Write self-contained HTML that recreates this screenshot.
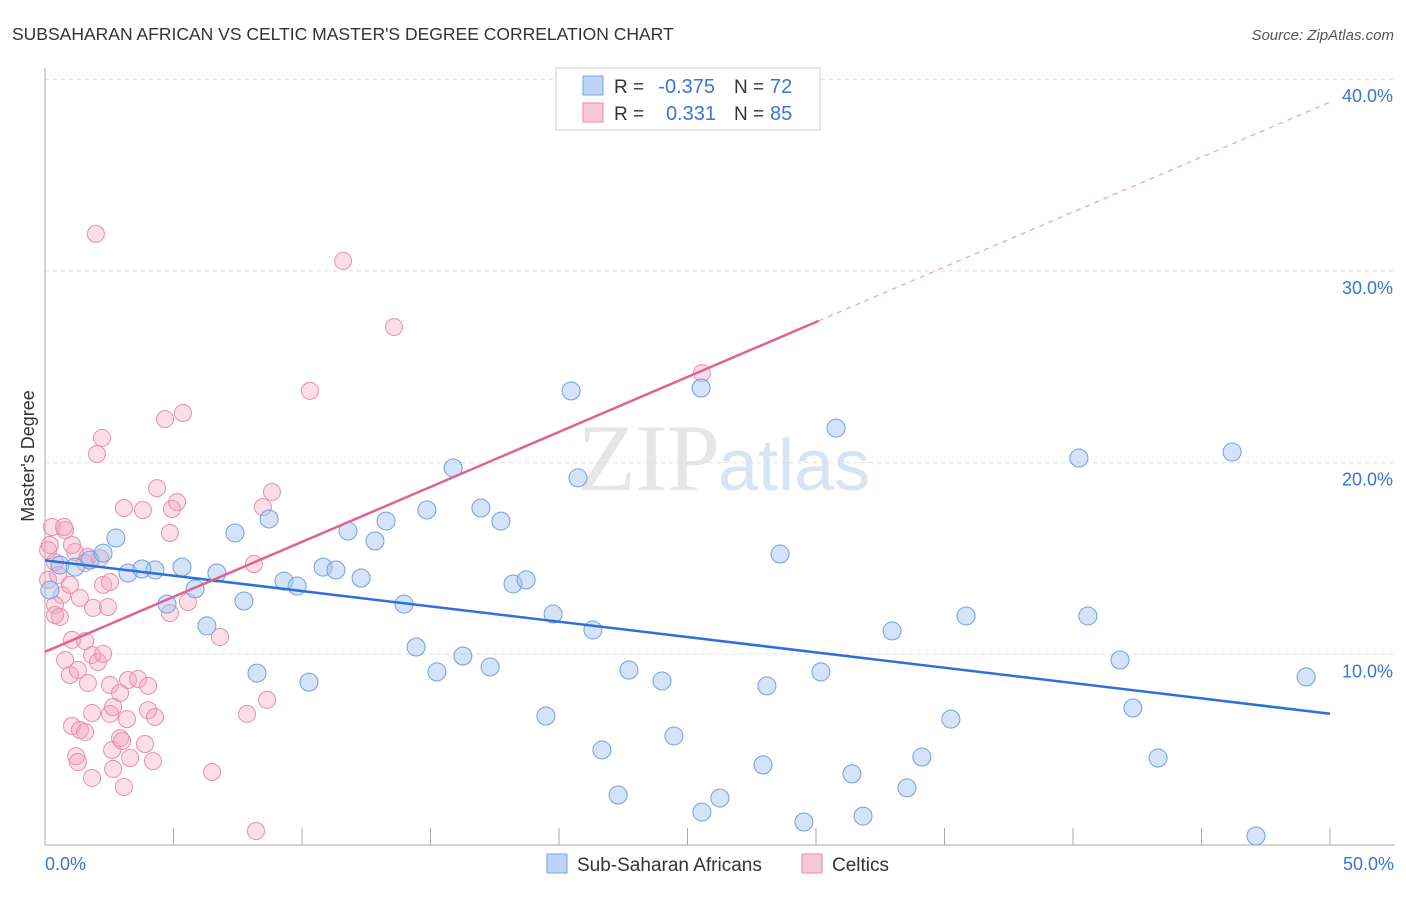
<!DOCTYPE html>
<html><head><meta charset="utf-8"><style>
body{margin:0;background:#fff;font-family:"Liberation Sans",sans-serif;}
</style></head><body>
<svg width="1406" height="892" xmlns="http://www.w3.org/2000/svg" font-family="Liberation Sans, sans-serif">
<text x="12" y="40" font-size="17.5" fill="#333">SUBSAHARAN AFRICAN VS CELTIC MASTER'S DEGREE CORRELATION CHART</text>
<text x="1394" y="40" font-size="15" fill="#555" font-style="italic" text-anchor="end">Source: ZipAtlas.com</text>
<text x="720" y="490" font-size="95" fill="#e6e6e6" text-anchor="end" font-family="Liberation Serif, serif">ZIP</text>
<text x="718" y="490" font-size="72" fill="#d6e4f5">atlas</text>
<g id="grid"></g><g id="axes"></g><g id="pts"></g><g id="lines"></g>
<text transform="translate(34,456) rotate(-90)" font-size="18" fill="#333" text-anchor="middle">Master's Degree</text>
<text x="45" y="870" font-size="18" fill="#3b73d6">0.0%</text>
<text x="1394" y="870" font-size="18" fill="#3b73d6" text-anchor="end">50.0%</text>
<g>
<rect x="556" y="68" width="264" height="62" fill="#fff" stroke="#ccc"/>
<rect x="583" y="76" width="20" height="19" fill="#bcd3f5" stroke="#7aa3e5"/>
<rect x="583" y="103" width="20" height="19" fill="#f8c8d6" stroke="#e98aa8"/>
<text x="614" y="93" font-size="19" fill="#333">R =</text>
<text x="715" y="93" font-size="20" fill="#3b73d6" text-anchor="end">-0.375</text>
<text x="734" y="93" font-size="19" fill="#333">N =</text>
<text x="770" y="93" font-size="20" fill="#3b73d6">72</text>
<text x="614" y="120" font-size="19" fill="#333">R =</text>
<text x="716" y="120" font-size="20" fill="#3b73d6" text-anchor="end">0.331</text>
<text x="734" y="120" font-size="19" fill="#333">N =</text>
<text x="770" y="120" font-size="20" fill="#3b73d6">85</text>
</g>
<g>
<rect x="547" y="854" width="20" height="19" fill="#bcd3f5" stroke="#7aa3e5"/>
<text x="577" y="871" font-size="19" fill="#333">Sub-Saharan Africans</text>
<rect x="802" y="854" width="20" height="19" fill="#f8c8d6" stroke="#e98aa8"/>
<text x="832" y="871" font-size="19" fill="#333">Celtics</text>
</g>
</svg>
<script>
const yTicks=[10,20,30,40];
const yTickLabels=["10.0%","20.0%","30.0%","40.0%"];
const blueX=[0.58,1.17,1.75,2.26,2.76,3.23,4.28,3.77,4.75,5.33,5.84,6.30,6.69,7.39,7.74,8.25,8.72,9.30,9.81,10.27,10.82,11.32,11.79,12.30,12.84,13.27,13.97,14.44,14.86,15.25,15.88,16.26,16.96,17.32,17.74,18.21,18.72,19.49,19.77,20.47,20.74,21.32,21.67,22.30,22.72,24.01,24.47,25.53,25.56,26.26,27.94,28.09,28.60,29.53,30.19,30.78,31.40,31.83,32.96,33.54,34.12,35.25,35.84,40.23,40.58,41.83,42.33,43.31,46.19,47.12,49.07,0.19];
const blueY=[14.66,14.55,14.92,15.28,16.07,14.24,14.40,14.45,12.62,14.55,13.41,11.48,14.24,16.33,12.78,9.02,17.06,13.82,13.56,8.55,14.55,14.40,16.43,13.98,15.91,16.95,12.62,10.38,17.53,9.08,19.72,9.91,17.63,9.34,16.95,13.67,13.88,6.78,12.10,23.74,19.20,11.27,5.01,2.66,9.18,8.61,5.74,23.89,1.77,2.50,4.23,8.35,15.23,1.25,9.08,21.80,3.76,1.56,11.22,3.03,4.64,6.62,12.00,20.24,12.00,9.70,7.20,4.59,20.55,0.52,8.82,13.35];
const pinkX=[0.27,0.19,0.39,0.12,0.51,0.66,0.39,0.58,0.78,0.97,1.17,1.36,1.56,1.67,1.87,2.14,2.26,2.45,1.05,1.56,0.78,0.97,1.28,1.67,1.83,2.06,2.26,2.53,2.92,3.23,3.62,4.01,1.83,2.53,2.65,3.19,4.01,4.28,1.05,1.36,1.56,1.21,1.28,1.83,2.61,2.65,2.92,3.00,3.31,3.89,4.20,3.07,1.98,11.60,13.58,10.31,5.37,4.67,2.22,2.02,4.36,5.14,3.07,4.94,3.81,4.86,0.74,1.05,4.86,5.56,6.81,8.13,8.48,8.83,8.64,7.86,6.50,8.21,25.56,0.12,0.39,2.53];
const pinkY=[16.64,15.70,14.81,13.88,14.14,13.09,12.57,11.95,16.48,13.62,15.34,12.94,14.76,15.08,12.42,15.02,13.62,12.47,10.75,10.69,9.70,8.92,9.18,8.50,9.96,9.60,10.02,8.40,7.98,8.66,8.71,8.35,6.94,6.89,7.25,6.62,7.09,6.73,6.26,6.05,5.95,4.69,4.38,3.55,5.01,4.02,5.63,5.48,4.59,5.32,4.43,3.08,31.93,30.52,27.07,23.74,22.59,22.27,21.28,20.45,18.67,17.94,17.63,17.58,17.53,16.33,16.64,15.70,12.15,12.73,10.90,14.71,17.68,18.47,7.62,6.89,3.86,0.78,24.67,15.44,12.05,13.77];
const blueTrend=[14.9,6.9];
const pinkTrend=[10.13,0.5735];
const pinkSolidEnd=30.1;
const NS="http://www.w3.org/2000/svg";
const xs=v=>45+v/50*1285, ys=v=>846-v*19.17;
function mk(p,t,a){const e=document.createElementNS(NS,t);for(const k in a)e.setAttribute(k,a[k]);document.getElementById(p).appendChild(e);return e;}
yTicks.forEach((t,i)=>{
 const l=mk('grid','line',{x1:45,x2:1395,y1:ys(t),y2:ys(t),stroke:'#ddd','stroke-dasharray':'4,4'});
 
 
 const tx=mk('grid','text',{x:1393,y:ys(t)+23,'font-size':18,fill:'#3b73d6','text-anchor':'end'});
 tx.textContent=yTickLabels[i];
 
 
});
const al=mk('axes','line',{x1:45,x2:1395,y1:845,y2:845,stroke:'#aaa'});


const yl=mk('axes','line',{x1:45,x2:45,y1:68,y2:845,stroke:'#aaa'});


for(let i=1;i<=10;i++){const t=mk('axes','line',{x1:xs(i*5),x2:xs(i*5),y1:828,y2:845,stroke:'#aaa'});
 
 }
pinkX.forEach((x,i)=>{const c=mk('pts','circle',{cx:xs(x),cy:ys(pinkY[i]),r:8.5,fill:'rgba(244,160,188,0.35)',stroke:'#ea8eab','stroke-width':1});
 
 });
blueX.forEach((x,i)=>{const c=mk('pts','circle',{cx:xs(x),cy:ys(blueY[i]),r:9,fill:'rgba(160,192,238,0.45)',stroke:'#6f9fe0','stroke-width':1});
 
 });
const bl=mk('lines','line',{x1:xs(0),y1:ys(blueTrend[0]),x2:xs(50),y2:ys(blueTrend[1]),stroke:'#2f6fd8','stroke-width':2.5});


const pl=mk('lines','line',{x1:xs(0),y1:ys(pinkTrend[0]),x2:xs(pinkSolidEnd),y2:ys(pinkTrend[0]+pinkTrend[1]*pinkSolidEnd),stroke:'#e0628f','stroke-width':2.5});


const pd=mk('lines','line',{x1:xs(pinkSolidEnd),y1:ys(pinkTrend[0]+pinkTrend[1]*pinkSolidEnd),x2:xs(50),y2:ys(pinkTrend[0]+pinkTrend[1]*50),stroke:'#e8a0b8','stroke-width':1.2,'stroke-dasharray':'5,5'});


</script>
</body></html>
